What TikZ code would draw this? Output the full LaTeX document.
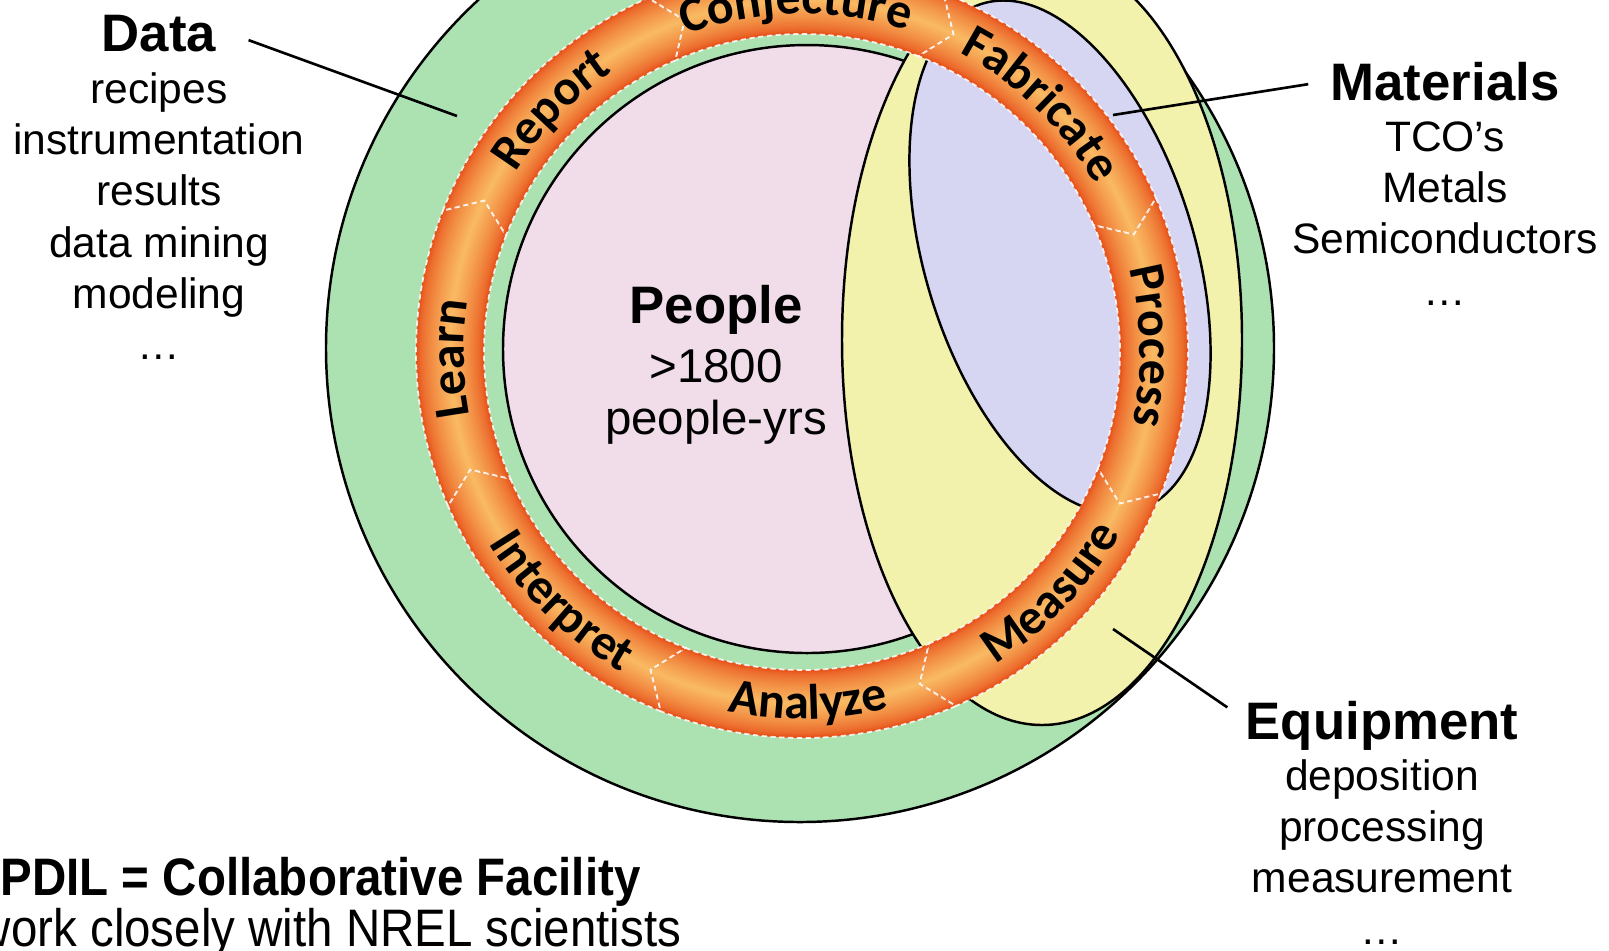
\documentclass[tikz,border=0pt]{standalone}
\usepackage{fontspec}
\setmainfont{Liberation Sans}
\newfontfamily\ringfont{Carlito}
\newfontfamily\narrowfont{Liberation Sans}[FakeStretch=0.9]
\usetikzlibrary{decorations.text}

\definecolor{labgreen}{RGB}{172,226,178}
\definecolor{peoplepink}{RGB}{240,221,233}
\definecolor{equipyellow}{RGB}{243,242,172}
\definecolor{matblue}{RGB}{214,214,243}
\definecolor{ringdark}{RGB}{232,84,28}
\definecolor{ringlight}{RGB}{249,184,98}

\newcommand\ringtext{\ringfont\bfseries\fontsize{14.2}{17}\selectfont}

\tikzset{
  title/.style={anchor=base, font=\fontsize{15}{18}\selectfont\bfseries},
  body/.style={anchor=base, font=\fontsize{12.1}{14.6}\selectfont},
  blob/.style={draw=black, line width=0.7pt},
  leader/.style={line width=0.75pt},
  segedge/.style={draw=white, draw opacity=0.85, dash pattern=on 1.5pt off 1pt, line width=0.5pt},
  % one arrow piece of the ring, tail at #1, head at #2 (degrees)
  seg/.style 2 args={insert path={(#1:386) arc[start angle=#1, end angle=#2, radius=386]
      -- (#2-4:352) -- (#2:318) arc[start angle=#2, end angle=#1, radius=318]
      -- (#1-4:352) -- cycle}},
}

\begin{document}
\begin{tikzpicture}[x=0.01cm, y=0.01cm]
  \path[use as bounding box] (0,-950) rectangle (1609,0);
  \clip (0,-950) rectangle (1609,0);

  % facility, people, equipment, materials
  \draw[blob, fill=labgreen] (800,-348) circle (474);
  \draw[blob, fill=peoplepink] (807,-349) circle (304);
  \draw[blob, fill=equipyellow] (1042,-340) ellipse (200 and 385);
  \draw[blob, fill=matblue, rotate around={-73:(1060,-257)}] (1060,-257) ellipse (265 and 135);

  % research cycle
  \begin{scope}[shift={(802,-352)}]
    \foreach \a [evaluate=\a as \s using \a+23.5, evaluate=\a as \e using \a-21.5]
        in {90, 45, 0, -45, -90, -135, 180, 135} {
      \begin{scope}
        \clip[seg={\s}{\e}];
        \fill[ringdark] (0,0) circle (400);
        \foreach \i [evaluate=\i as \w using 19-\i, evaluate=\i as \p using 100*(\i/18)^0.7]
            in {0,...,18}
          \draw[ringlight!\p!ringdark, line width=\w pt] (0,0) circle (352);
      \end{scope}
      \path[segedge, seg={\s}{\e}];
    }
    % labels read clockwise on the upper part
    \foreach \a/\word [evaluate=\a as \s using \a+23, evaluate=\a as \e using \a-21]
        in {90/Conjecture, 45/Fabricate, 0/Process, 180/Learn, 135/Report}
      \path[decorate, decoration={text along path, text align=center,
          text/.expanded={|\noexpand\ringtext|\word}}]
        (\s:338) arc[start angle=\s, end angle=\e, radius=338];
    % and anticlockwise underneath
    \foreach \a/\word [evaluate=\a as \s using \a+23, evaluate=\a as \e using \a-21]
        in {-45/Measure, -90/Analyze, -135/Interpret}
      \path[decorate, decoration={text along path, text align=center,
          text/.expanded={|\noexpand\ringtext|\word}}]
        (\e:367) arc[start angle=\e, end angle=\s, radius=367];
  \end{scope}

  % people
  \node[title] (people) at (716,-323) {People};
  \node[body, font=\fontsize{13.5}{16}\selectfont] (people-n) at (716,-382) {>1800};
  \node[body, font=\fontsize{13.5}{16}\selectfont] (people-y) at (716,-434) {people-yrs};

  % data
  \node[title] (data) at (159,-51) {Data};
  \foreach \t [count=\i] in {recipes, instrumentation, results, data mining, modeling, …}
    \node[body] (data-\i) at (159,-52-51.3*\i) {\t};

  % materials
  \node[title] (mat) at (1445,-100) {Materials};
  \foreach \t [count=\i] in {TCO’s, Metals, Semiconductors, …}
    \node[body] (mat-\i) at (1445,-100-51.3*\i) {\t};

  % equipment
  \node[title] (equip) at (1382,-739) {Equipment};
  \foreach \t [count=\i] in {deposition, processing, measurement, …}
    \node[body] (equip-\i) at (1382,-739-51.3*\i) {\t};

  % pointers into the regions
  \coordinate (datapin) at (457,-116);
  \coordinate (matpin) at (1113,-115);
  \coordinate (equippin) at (1113,-629);
  \draw[leader] ([xshift=0.2cm, yshift=-0.07cm]data.east) -- (datapin);
  \draw[leader] ([xshift=-0.1cm, yshift=-0.03cm]mat.west) -- (matpin);
  \draw[leader] ([xshift=-0.06cm, yshift=0.18cm]equip.west) -- (equippin);

  % footnote
  \node[anchor=base west, inner sep=0, font=\narrowfont\fontsize{15}{18}\selectfont\bfseries]
    (pdil) at (0,-895) {PDIL = Collaborative Facility};
  \node[anchor=base east, inner sep=0, font=\narrowfont\fontsize{15}{18}\selectfont]
    (nrel) at (682,-946) {work closely with NREL scientists};
\end{tikzpicture}
\end{document}
